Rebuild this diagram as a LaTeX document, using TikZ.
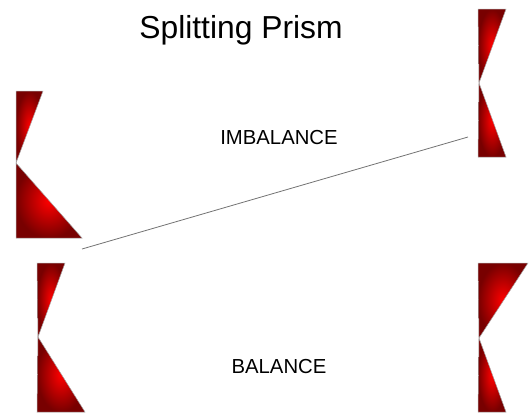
\documentclass[tikz,border=0pt]{standalone}
\usepackage{fontspec}
\setmainfont{Liberation Sans}
\begin{document}
\begin{tikzpicture}[x=1pt, y=-1pt,
  prism/.style={shading=radial, inner color=red, outer color={rgb,255:red,120;green,0;blue,0},
    draw=gray!70, line width=0.5pt},
  beam/.style={draw=gray!90!black, line width=0.8pt},
  label/.style={anchor=base, inner sep=0pt, font=\fontsize{20.3}{24}\selectfont}]

\useasboundingbox (0,0) rectangle (529,413);

% imbalance: left and right prisms
\path[prism] (16,91) -- (43,91) -- (16,163) -- cycle;
\path[prism] (16,163) -- (82,238) -- (16,238) -- cycle;

\path[prism] (478,9) -- (506,9) -- (479,83) -- cycle;
\path[prism] (479,83) -- (506,157) -- (478,157) -- cycle;

% balance: left and right prisms
\path[prism] (37,263) -- (65,263) -- (38,337) -- cycle;
\path[prism] (38,337) -- (85,412) -- (37,412) -- cycle;

\path[prism] (478,263) -- (528,263) -- (479,338) -- cycle;
\path[prism] (479,338) -- (506,412) -- (478,412) -- cycle;

\coordinate (beam in) at (82,249);
\coordinate (beam out) at (468,137);
\draw[beam] (beam in) -- (beam out);

\node[anchor=base, inner sep=0pt, font=\fontsize{31.8}{36}\selectfont] (title) at (241,38) {Splitting Prism};
\node[label] (imbalance) at (279,144) {IMBALANCE};
\node[label] (balance) at (279,373) {BALANCE};

\end{tikzpicture}
\end{document}
